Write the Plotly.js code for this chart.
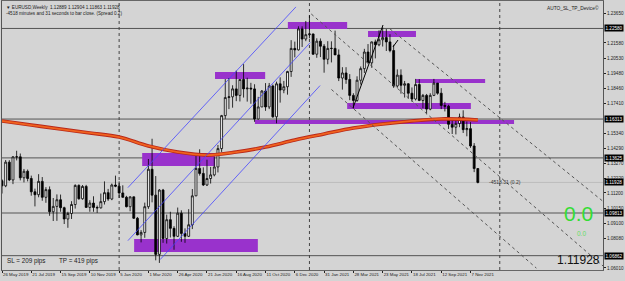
<!DOCTYPE html>
<html><head><meta charset="utf-8">
<script src="https://cdn.plot.ly/plotly-3.0.1.min.js"></script>
<style>html,body{margin:0;padding:0;background:#d4d4d4;}#c{width:625px;height:281px;}</style>
</head><body><div id="c"></div>
<script>
// ---- weekly EURUSD candles (bar index 0 = 26 May 2019) ----
const OPEN = [1.1205,1.1169,1.1333,1.1210,1.1370,1.1370,1.1225,1.1270,1.1220,1.1128,1.1108,1.1200,1.1090,1.1143,1.0990,1.1027,1.1073,1.1018,1.0940,1.0978,1.1040,1.1172,1.1080,1.1165,1.1020,1.1050,1.1020,1.1017,1.1060,1.1122,1.1078,1.1175,
1.1167,1.1120,1.1090,1.1025,1.1093,1.0945,1.0830,1.0847,1.1025,1.1284,1.1105,1.0695,1.1140,1.0805,1.0935,1.0875,1.0820,1.0980,1.0840,1.0820,1.0900,1.1100,1.1290,1.1255,1.1175,1.1220,1.1245,1.1300,1.1427,1.1655,1.1780,1.1785,1.1840,1.1795,1.1905,1.1840,1.1845,1.1840,1.1632,1.1715,1.1825,1.1715,1.1860,1.1647,1.1875,1.1832,1.1855,1.1960,1.2120,1.2110,1.2255,1.2185,
1.2215,1.2220,1.2080,1.2170,1.2135,1.2045,1.2120,1.2120,1.2075,1.1915,1.1950,1.1905,1.1795,1.1760,1.1900,1.1980,1.2095,1.2020,1.2165,1.2145,1.2180,1.2195,1.2165,1.2105,1.1860,1.1935,1.1865,1.1875,1.1810,1.1770,1.1870,1.1760,1.1795,1.1700,1.1795,1.1880,1.1810,1.1725,1.1720,1.1595,1.1575,1.1600,1.1645,1.1558,1.1565,1.1445,1.12889];
const HIGH = [1.1215,1.1348,1.1347,1.1375,1.1412,1.1393,1.1286,1.1282,1.1240,1.1150,1.1250,1.1230,1.1160,1.1165,1.1085,1.1110,1.1109,1.1025,1.0990,1.1063,1.1180,1.1180,1.1175,1.1176,1.1070,1.1097,1.1033,1.1116,1.1200,1.1148,1.1185,1.1240,
1.1200,1.1173,1.1100,1.1097,1.1095,1.0954,1.0863,1.1053,1.1355,1.1495,1.1237,1.1147,1.1148,1.0970,1.0990,1.0890,1.1019,1.1000,1.0875,1.1008,1.1147,1.1384,1.1422,1.1297,1.1350,1.1300,1.1370,1.1452,1.1660,1.1908,1.1915,1.1865,1.1966,1.1905,1.2011,1.1917,1.1882,1.1872,1.1785,1.1832,1.1880,1.1881,1.1870,1.1890,1.1920,1.1895,1.1965,1.2177,1.2167,1.2273,1.2273,1.2310,
1.2349,1.2222,1.2190,1.2189,1.2150,1.2170,1.2169,1.2243,1.2113,1.1990,1.1990,1.1942,1.1810,1.1927,1.1995,1.2117,1.2150,1.2167,1.2181,1.2245,1.2266,1.2254,1.2218,1.2145,1.1975,1.1975,1.1895,1.1880,1.1850,1.1909,1.1907,1.1805,1.1805,1.1810,1.1909,1.1880,1.1845,1.1750,1.1730,1.1640,1.1625,1.1669,1.1692,1.1615,1.1610,1.1465,1.12904];
const LOW = [1.1116,1.1160,1.1202,1.1181,1.1345,1.1207,1.1193,1.1200,1.1101,1.1027,1.1090,1.1066,1.1052,1.0962,1.0926,1.0927,1.0990,1.0905,1.0879,1.0940,1.1012,1.1073,1.1073,1.1019,1.0990,1.0990,1.0982,1.1012,1.1040,1.1065,1.1070,1.1160,
1.1085,1.1087,1.1020,1.0993,1.0940,1.0827,1.0778,1.0810,1.1010,1.1055,1.0654,1.0636,1.0775,1.0770,1.0812,1.0727,1.0815,1.0782,1.0775,1.0815,1.0870,1.1098,1.1240,1.1168,1.1168,1.1185,1.1235,1.1262,1.1404,1.1633,1.1700,1.1710,1.1755,1.1753,1.1780,1.1752,1.1737,1.1612,1.1627,1.1714,1.1688,1.1700,1.1640,1.1602,1.1745,1.1810,1.1800,1.1923,1.2058,1.2105,1.2130,1.2170,
1.2190,1.2075,1.2055,1.2060,1.1952,1.2010,1.2023,1.2090,1.1894,1.1835,1.1875,1.1762,1.1704,1.1750,1.1870,1.1950,1.2018,1.1986,1.2051,1.2135,1.2133,1.2102,1.2093,1.1847,1.1848,1.1807,1.1780,1.1772,1.1752,1.1760,1.1755,1.1706,1.1664,1.1692,1.1790,1.1800,1.1700,1.1684,1.1563,1.1528,1.1525,1.1575,1.1535,1.1512,1.1432,1.1264,1.11863];
const CLOSE = [1.1169,1.1333,1.1210,1.1370,1.1370,1.1225,1.1270,1.1220,1.1128,1.1108,1.1200,1.1090,1.1143,1.0990,1.1027,1.1073,1.1018,1.0940,1.0978,1.1040,1.1172,1.1080,1.1165,1.1020,1.1050,1.1020,1.1017,1.1060,1.1122,1.1078,1.1175,1.1167,
1.1120,1.1090,1.1025,1.1093,1.0945,1.0830,1.0847,1.1025,1.1284,1.1105,1.0695,1.1140,1.0805,1.0935,1.0875,1.0820,1.0980,1.0840,1.0820,1.0900,1.1100,1.1290,1.1255,1.1175,1.1220,1.1245,1.1300,1.1427,1.1655,1.1780,1.1785,1.1840,1.1795,1.1905,1.1840,1.1845,1.1840,1.1632,1.1715,1.1825,1.1715,1.1860,1.1647,1.1875,1.1832,1.1855,1.1960,1.2120,1.2110,1.2255,1.2185,1.2215,
1.2220,1.2080,1.2170,1.2135,1.2045,1.2120,1.2120,1.2075,1.1915,1.1950,1.1905,1.1795,1.1760,1.1900,1.1980,1.2095,1.2020,1.2165,1.2145,1.2180,1.2195,1.2165,1.2105,1.1860,1.1935,1.1865,1.1875,1.1810,1.1770,1.1870,1.1760,1.1795,1.1700,1.1795,1.1880,1.1810,1.1725,1.1720,1.1595,1.1575,1.1600,1.1645,1.1558,1.1565,1.1445,1.1289,1.11928];

// date labels every 8 bars
const DATE_IDX = [0,8,16,24,32,40,48,56,64,72,80,88,96,104,112,120,128];
const DATE_LABELS = ["26 May 2019","21 Jul 2019","15 Sep 2019","10 Nov 2019","5 Jan 2020","1 Mar 2020","26 Apr 2020","21 Jun 2020","16 Aug 2020","11 Oct 2020","6 Dec 2020","31 Jan 2021","28 Mar 2021","23 May 2021","18 Jul 2021","12 Sep 2021","7 Nov 2021"];

// price axis labels
const PRICE_TICKS = [1.23650,1.21580,1.20530,1.19480,1.18460,1.17410,1.15340,1.14290,1.13270,1.12220,1.11200,1.10150,1.09100,1.08080,1.06010];
const PRICE_TICK_TEXT = ["1.23650","1.21580","1.20530","1.19480","1.18460","1.17410","1.15340","1.14290","1.13270","1.12220","1.11200","1.10150","1.09100","1.08080","1.06010"];

// moving average (read at sample bars)
const MA_IDX = [0,8,16,24,32,40,48,56,64,72,80,88,96,104,112,120,130];
const MA_VAL = [1.1618,1.1590,1.1562,1.1535,1.1507,1.1445,1.1403,1.1382,1.1403,1.1438,1.1486,1.1528,1.1569,1.1597,1.1618,1.1632,1.1625];

// supply/demand zones (bar index, price)
const ZONE_X0 = [78.1,100.0,58.2,113.1,94.3,69.1,38.3,36.1];
const ZONE_X1 = [94.3,113.1,71.9,132.0,128.1,139.9,58.2,69.9];
const ZONE_Y0 = [1.2303,1.2240,1.1957,1.1908,1.1742,1.1625,1.1396,1.0801];
const ZONE_Y1 = [1.2254,1.2199,1.1908,1.1881,1.1701,1.1597,1.1306,1.0711];

// horizontal levels and their axis labels
const LEVELS = [1.22580,1.16313,1.13625,1.09813,1.06862];
const LEVEL_TEXT = ["1.22580","1.16313","1.13625","1.09813","1.06862"];
const BID = 1.11928;

// year separators
const SEP_IDX = [32,84,136];

// blue channel lines
const CH_X0 = [34.4,34.4,43.2];
const CH_Y0 = [1.1157,1.0790,1.0659];
const CH_X1 = [80.3,84.2,86.9];
const CH_Y1 = [1.2407,1.2160,1.1863];

// dotted trend lines
const TL_X0 = [84.5,106.0,90.0];
const TL_Y0 = [1.2358,1.2255,1.1836];
const TL_X1 = [164.2,164.2,146.0];
const TL_Y1 = [1.0615,1.1062,1.0600];

// black trend lines
const BL_X0 = [95.9,106.8];
const BL_Y0 = [1.1708,1.2130];
const BL_X1 = [104.1,108.2];
const BL_Y1 = [1.2282,1.2178];

const idx = OPEN.map((_, i) => i);
const traces = [];

traces.push({type:'scatter', mode:'lines', x:MA_IDX, y:MA_VAL, line:{color:'#b8281a', width:3.6, shape:'spline'}, hoverinfo:'skip', showlegend:false});
traces.push({type:'scatter', mode:'lines', x:MA_IDX, y:MA_VAL, line:{color:'#f0621e', width:1.8, shape:'spline'}, hoverinfo:'skip', showlegend:false});

traces.push({type:'candlestick', x:idx, open:OPEN, high:HIGH, low:LOW, close:CLOSE,
  increasing:{line:{color:'#000', width:0.8}, fillcolor:'#ffffff'},
  decreasing:{line:{color:'#000', width:0.8}, fillcolor:'#000000'},
  whiskerwidth:0, hoverinfo:'skip', showlegend:false});

const shapes = [];
for (let i=0;i<ZONE_X0.length;i++) shapes.push({type:'rect', xref:'x', yref:'y', x0:ZONE_X0[i], x1:ZONE_X1[i], y0:ZONE_Y0[i], y1:ZONE_Y1[i], fillcolor:'#9932cc', line:{width:0}, layer:'below'});
for (const lv of LEVELS) shapes.push({type:'line', xref:'paper', yref:'y', x0:0, x1:1, y0:lv, y1:lv, line:{color:'#555', width:1}, layer:'below'});
shapes.push({type:'line', xref:'paper', yref:'y', x0:0, x1:1, y0:BID, y1:BID, line:{color:'#bdbdbd', width:1}, layer:'below'});
for (const s of SEP_IDX) shapes.push({type:'line', xref:'x', yref:'paper', x0:s, x1:s, y0:0, y1:1, line:{color:'#444', width:1, dash:'dot'}, layer:'below'});
for (let i=0;i<CH_X0.length;i++) shapes.push({type:'line', xref:'x', yref:'y', x0:CH_X0[i], y0:CH_Y0[i], x1:CH_X1[i], y1:CH_Y1[i], line:{color:'#4646ff', width:0.8}});
for (let i=0;i<TL_X0.length;i++) shapes.push({type:'line', xref:'x', yref:'y', x0:TL_X0[i], y0:TL_Y0[i], x1:TL_X1[i], y1:TL_Y1[i], line:{color:'#555', width:1, dash:'dot'}});
for (let i=0;i<BL_X0.length;i++) shapes.push({type:'line', xref:'x', yref:'y', x0:BL_X0[i], y0:BL_Y0[i], x1:BL_X1[i], y1:BL_Y1[i], line:{color:'#000', width:1}});

const F = 'Liberation Sans, Arial, sans-serif';
const annotations = [];
for (let i=0;i<LEVELS.length;i++) annotations.push({xref:'paper', yref:'y', x:1, y:LEVELS[i], xanchor:'left', yanchor:'middle', xshift:1, text:LEVEL_TEXT[i], showarrow:false, bgcolor:'#000', font:{family:F, size:4.6, color:'#fff'}, borderpad:0.5});
annotations.push({xref:'paper', yref:'y', x:1, y:BID, xanchor:'left', yanchor:'middle', xshift:1, text:'1.11928', showarrow:false, bgcolor:'#000', font:{family:F, size:4.6, color:'#fff'}, borderpad:0.5});
annotations.push({xref:'paper', yref:'paper', x:0, y:1, xanchor:'left', yanchor:'top', xshift:2, yshift:-2, align:'left',
  text:'▼ EURUSD,Weekly  1.12889 1.12904 1.11863 1.11928<br>-4518 minutes and 31 seconds to bar close. (Spread 0.2)', showarrow:false, font:{family:F, size:4.6, color:'#222'}});
annotations.push({xref:'paper', yref:'paper', x:1, y:1, xanchor:'right', yanchor:'top', xshift:-2, yshift:-2, text:'AUTO_SL_TP_Device©', showarrow:false, font:{family:F, size:4.8, color:'#222'}});
annotations.push({xref:'paper', yref:'paper', x:0, y:0, xanchor:'left', yanchor:'bottom', xshift:3, yshift:3, text:'SL = 209 pips', showarrow:false, font:{family:F, size:6.3, color:'#222'}});
annotations.push({xref:'paper', yref:'paper', x:0, y:0, xanchor:'left', yanchor:'bottom', xshift:55, yshift:3, text:'TP = 419 pips', showarrow:false, font:{family:F, size:6.3, color:'#222'}});
annotations.push({xref:'paper', yref:'y', x:1, y:1.0976, xanchor:'right', yanchor:'middle', xshift:-8, text:'0.0', showarrow:false, font:{family:F, size:21, color:'#33dd33'}});
annotations.push({xref:'paper', yref:'y', x:1, y:1.0843, xanchor:'right', yanchor:'middle', xshift:-15, text:'0.0', showarrow:false, font:{family:F, size:6.5, color:'#66dd66'}});
annotations.push({xref:'paper', yref:'paper', x:1, y:0, xanchor:'right', yanchor:'bottom', xshift:-1, yshift:1, text:'1.11928', showarrow:false, font:{family:F, size:12, color:'#111'}});
annotations.push({xref:'x', yref:'y', x:132.5, y:BID, xanchor:'left', yanchor:'middle', text:'-4518.31 (0.2)', showarrow:false, font:{family:F, size:5, color:'#333'}});

const layout = {
  width:625, height:281, margin:{l:2, r:22, t:1, b:11},
  paper_bgcolor:'#d4d4d4', plot_bgcolor:'#d4d4d4', showlegend:false, boxgap:0.25,
  xaxis:{range:[0,164.2], rangeslider:{visible:false}, tickmode:'array', tickvals:DATE_IDX, ticktext:DATE_LABELS, tickangle:0, automargin:false,
    ticks:'outside', ticklen:2, tickcolor:'#222', ticklabelposition:'outside right', tickfont:{family:F, size:4.4, color:'#222'},
    showgrid:false, zeroline:false, showline:true, linecolor:'#666', linewidth:1, mirror:true, fixedrange:true},
  yaxis:{range:[1.0587,1.2448], side:'right', tickmode:'array', tickvals:PRICE_TICKS, ticktext:PRICE_TICK_TEXT, automargin:false,
    ticks:'outside', ticklen:2, tickcolor:'#222', tickfont:{family:F, size:4.6, color:'#222'},
    showgrid:false, zeroline:false, showline:true, linecolor:'#555', linewidth:1, mirror:true, fixedrange:true},
  shapes:shapes, annotations:annotations
};
Plotly.newPlot('c', traces, layout, {displayModeBar:false, staticPlot:true});
</script></body></html>
